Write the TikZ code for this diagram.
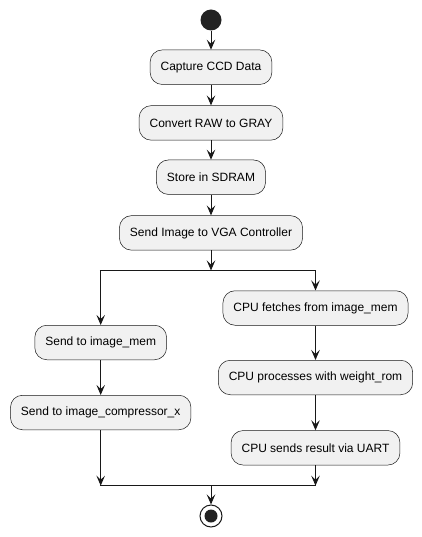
\documentclass[tikz,border=0pt]{standalone}
\usepackage{fontspec}
\setmainfont{Liberation Sans}
\usetikzlibrary{arrows.meta}
\definecolor{boxfill}{HTML}{F1F1F1}
\definecolor{ink}{HTML}{181818}
\definecolor{dot}{HTML}{222222}
\tikzset{
  act/.style={draw=ink, line width=0.5pt, fill=boxfill, rounded corners=12pt,
    minimum height=34.5pt, inner xsep=10.5pt, inner ysep=0pt, font=\fontsize{12}{14}\selectfont, text=black},
  flow/.style={draw=ink, line width=1pt, -{Stealth[length=10pt,width=8.5pt,inset=4pt]}},
  barline/.style={draw=ink, line width=1.5pt},
}
\begin{document}
\begin{tikzpicture}[x=1pt,y=-1pt]
\useasboundingbox (0,0) rectangle (421,537);
\node[circle, fill=dot, minimum size=21pt, inner sep=0pt] (start) at (211,20) {};
\node[act] (a1) at (211,67.2) {Capture CCD Data};
\node[act] (a2) at (211,122.9) {Convert RAW to GRAY};
\node[act] (a3) at (211,177.2) {Store in SDRAM};
\node[act] (a4) at (211,232.9) {Send Image to VGA Controller};
\coordinate (fork) at (211,270.5);
\coordinate (fL) at (100.7,270.5);
\coordinate (fR) at (315.5,270.5);
\node[act] (l1) at (100.7,342.5) {Send to image\_mem};
\node[act] (l2) at (100.7,412.5) {Send to image\_compressor\_x};
\node[act] (r1) at (315.5,308) {CPU fetches from image\_mem};
\node[act] (r2) at (315.5,377.5) {CPU processes with weight\_rom};
\node[act] (r3) at (315.5,447.8) {CPU sends result via UART};
\coordinate (join) at (211,485.7);
\coordinate (jL) at (100.7,485.7);
\coordinate (jR) at (315.5,485.7);
\node[circle, draw=ink, line width=1pt, fill=white, minimum size=22pt, inner sep=0pt] (stop) at (211,516) {};
\fill[dot] (stop.center) circle (6.5pt);

\draw[flow] (start) -- (a1);
\draw[flow] (a1) -- (a2);
\draw[flow] (a2) -- (a3);
\draw[flow] (a3) -- (a4);
\draw[flow] (a4) -- (fork);
\draw[barline] ([xshift=-0.75pt]fL) -- ([xshift=0.75pt]fR);
\draw[flow] (fL) -- (l1);
\draw[flow] (fR) -- (r1);
\draw[flow] (l1) -- (l2);
\draw[flow] (r1) -- (r2);
\draw[flow] (r2) -- (r3);
\draw[flow] (l2) -- (jL);
\draw[flow] (r3) -- (jR);
\draw[barline] ([xshift=-0.75pt]jL) -- ([xshift=0.75pt]jR);
\draw[flow] (join) -- (stop);
\end{tikzpicture}
\end{document}
